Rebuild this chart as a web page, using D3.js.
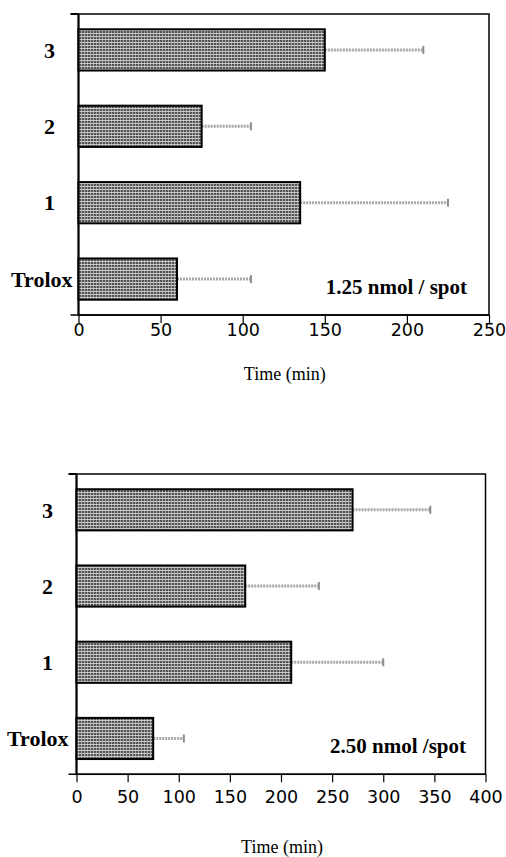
<!doctype html>
<html lang="en">
  <head>
    <meta charset="utf-8">
    <title>Time bars</title>
    <script src="https://d3js.org/d3.v7.min.js"></script>
    <style>
      body { margin: 0; background: white; }
      .cat { font-family: "Liberation Serif", serif; font-weight: bold; font-size: 22px; fill: black; }
      .note { font-family: "Liberation Serif", serif; font-weight: bold; font-size: 21px; fill: black; }
      .xtitle { font-family: "Liberation Serif", serif; font-size: 18px; fill: black; }
      .tick text { font-family: "DejaVu Sans", sans-serif; font-size: 17.5px; fill: black; }
    </style>
  </head>
  <body>
    <svg width="506" height="857"></svg>
    <script>
      // data (bars top to bottom)
      var categories = ['3', '2', '1', 'Trolox'];

      var meansA = [150, 75, 135, 60];
      var errorsA = [60, 30, 90, 45];
      var ticksA = [0, 50, 100, 150, 200, 250];

      var meansB = [270, 165, 210, 75];
      var errorsB = [76, 72, 90, 30];
      var ticksB = [0, 50, 100, 150, 200, 250, 300, 350, 400];

      var xTitle = 'Time (min)';

      var panels = [
        { top: 14, bottom: 315, left: 78.5, right: 489, max: 250, means: meansA, errors: errorsA,
          ticks: ticksA, note: '1.25 nmol / spot', noteX: 467, noteY: 294, pad: 1, titleY: 380, trolox: 6 },
        { top: 474, bottom: 774.3, left: 76.5, right: 485.5, max: 400, means: meansB, errors: errorsB,
          ticks: ticksB, note: '2.50 nmol /spot', noteX: 466, noteY: 753, pad: 8, titleY: 853, trolox: 8 }
      ];

      var svg = d3.select('svg');

      // halftone-ish fill for the bars
      var pat = svg.append('defs').append('pattern')
        .attr('id', 'dots')
        .attr('width', 3).attr('height', 3)
        .attr('patternUnits', 'userSpaceOnUse');
      pat.append('rect').attr('width', 3).attr('height', 3).attr('fill', '#555');
      pat.append('rect').attr('width', 3).attr('height', 1).attr('fill', '#c8c8c8');
      pat.append('rect').attr('y', 1).attr('width', 1).attr('height', 2).attr('fill', '#a2a2a2');

      panels.forEach(function(p) {
        var x = d3.scaleLinear().domain([0, p.max]).range([p.left, p.right]);
        var y = d3.scaleBand().domain(categories).range([p.top, p.bottom])
          .paddingInner(0.46).paddingOuter(0.2);

        var g = svg.append('g');

        // frame
        g.append('rect')
          .attr('x', p.left).attr('y', p.top)
          .attr('width', p.right - p.left).attr('height', p.bottom - p.top)
          .attr('fill', 'none').attr('stroke', 'black').attr('stroke-width', 1.5);

        // x axis
        var ax = g.append('g')
          .attr('transform', 'translate(0,' + p.bottom + ')')
          .call(d3.axisBottom(x).tickValues(p.ticks).tickSize(8).tickPadding(p.pad).tickSizeOuter(0));
        ax.select('.domain').attr('stroke-width', 1.5).attr('d', 'M' + (p.left - 8) + ',0H' + p.right);
        ax.selectAll('.tick line').attr('stroke-width', 1.2);

        // y axis line with end ticks
        g.append('path')
          .attr('d', 'M' + p.left + ',' + p.top + 'V' + p.bottom +
            'M' + (p.left - 8) + ',' + p.top + 'H' + p.left)
          .attr('stroke', 'black').attr('stroke-width', 2).attr('fill', 'none');

        var rows = categories.map(function(c, i) {
          return { cat: c, mean: p.means[i], err: p.errors[i] };
        });

        // error bars
        var eb = g.selectAll('.err').data(rows).enter().append('g').attr('class', 'err');
        eb.append('line')
          .attr('x1', function(d) { return x(d.mean); })
          .attr('x2', function(d) { return x(d.mean + d.err); })
          .attr('y1', function(d) { return y(d.cat) + y.bandwidth() / 2; })
          .attr('y2', function(d) { return y(d.cat) + y.bandwidth() / 2; })
          .attr('stroke', '#a8a8a8').attr('stroke-width', 3)
          .attr('stroke-dasharray', '2,1');
        eb.append('line')
          .attr('x1', function(d) { return x(d.mean + d.err); })
          .attr('x2', function(d) { return x(d.mean + d.err); })
          .attr('y1', function(d) { return y(d.cat) + y.bandwidth() / 2 - 4; })
          .attr('y2', function(d) { return y(d.cat) + y.bandwidth() / 2 + 4; })
          .attr('stroke', '#8c8c8c').attr('stroke-width', 2);

        // bars
        g.selectAll('.bar').data(rows).enter().append('rect')
          .attr('class', 'bar')
          .attr('x', x(0))
          .attr('y', function(d) { return y(d.cat); })
          .attr('width', function(d) { return x(d.mean) - x(0); })
          .attr('height', y.bandwidth())
          .attr('fill', 'url(#dots)')
          .attr('stroke', 'black').attr('stroke-width', 2);

        // category labels
        g.selectAll('.cat').data(rows).enter().append('text')
          .attr('class', 'cat')
          .attr('text-anchor', function(d) { return d.cat === 'Trolox' ? 'end' : 'middle'; })
          .attr('x', function(d) { return d.cat === 'Trolox' ? p.left - p.trolox : p.left - 29; })
          .attr('y', function(d) { return y(d.cat) + y.bandwidth() / 2; })
          .attr('dy', '0.35em')
          .text(function(d) { return d.cat; });

        g.append('text').attr('class', 'note')
          .attr('x', p.noteX).attr('y', p.noteY)
          .attr('text-anchor', 'end')
          .text(p.note);

        g.append('text').attr('class', 'xtitle')
          .attr('x', (p.left + p.right) / 2 + 1).attr('y', p.titleY)
          .attr('text-anchor', 'middle')
          .text(xTitle);
      });
    </script>
  </body>
</html>
